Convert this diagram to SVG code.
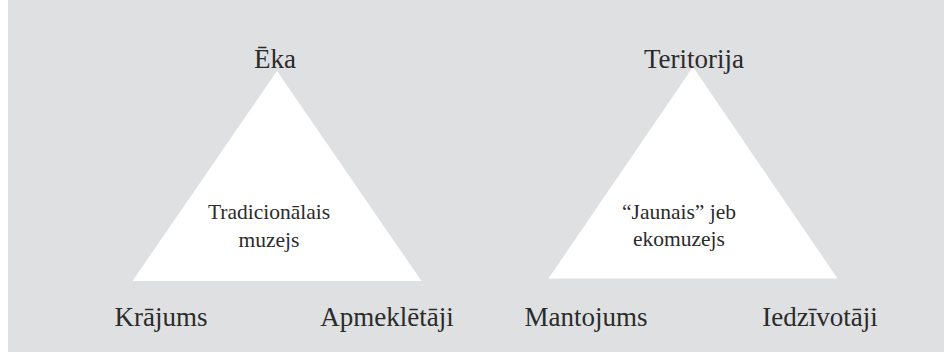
<svg xmlns="http://www.w3.org/2000/svg" width="944" height="352" viewBox="0 0 944 352">
<style>
  .bg { fill: #ffffff; }
  .panel { fill: #dfe0e2; }
  .tri { fill: #ffffff; }
  text { font-family: 'Liberation Serif', 'DejaVu Serif', serif; fill: #2b2b2b; text-anchor: middle; }
  .lbl { font-size: 27px; }
  .inner { font-size: 21.5px; }
</style>
<rect class="bg" x="0" y="0" width="944" height="352"/>
<rect class="panel" x="8" y="0" width="936" height="352"/>
<g id="connectors"></g>
<g id="traditional">
  <polygon class="tri" points="277,71 132.5,281 421.5,281"/>
  <text class="inner" font-family="Liberation Serif, serif" x="269" y="219">Tradicionālais</text>
  <text class="inner" font-family="Liberation Serif, serif" x="269" y="247">muzejs</text>
</g>
<g id="eco">
  <polygon class="tri" points="693,67 548.5,278.5 837.5,278.5"/>
  <text class="inner" font-family="Liberation Serif, serif" x="679" y="219">“Jaunais” jeb</text>
  <text class="inner" font-family="Liberation Serif, serif" x="679" y="246">ekomuzejs</text>
</g>
<g id="eka"><text class="lbl" font-family="Liberation Serif, serif" x="275" y="68">Ēka</text></g>
<g id="teritorija"><text class="lbl" font-family="Liberation Serif, serif" x="694" y="68">Teritorija</text></g>
<g id="krajums"><text class="lbl" font-family="Liberation Serif, serif" x="161" y="326">Krājums</text></g>
<g id="apmekletaji"><text class="lbl" font-family="Liberation Serif, serif" x="387" y="326">Apmeklētāji</text></g>
<g id="mantojums"><text class="lbl" font-family="Liberation Serif, serif" x="586" y="326">Mantojums</text></g>
<g id="iedzivotaji"><text class="lbl" font-family="Liberation Serif, serif" x="820" y="326">Iedzīvotāji</text></g>
</svg>
